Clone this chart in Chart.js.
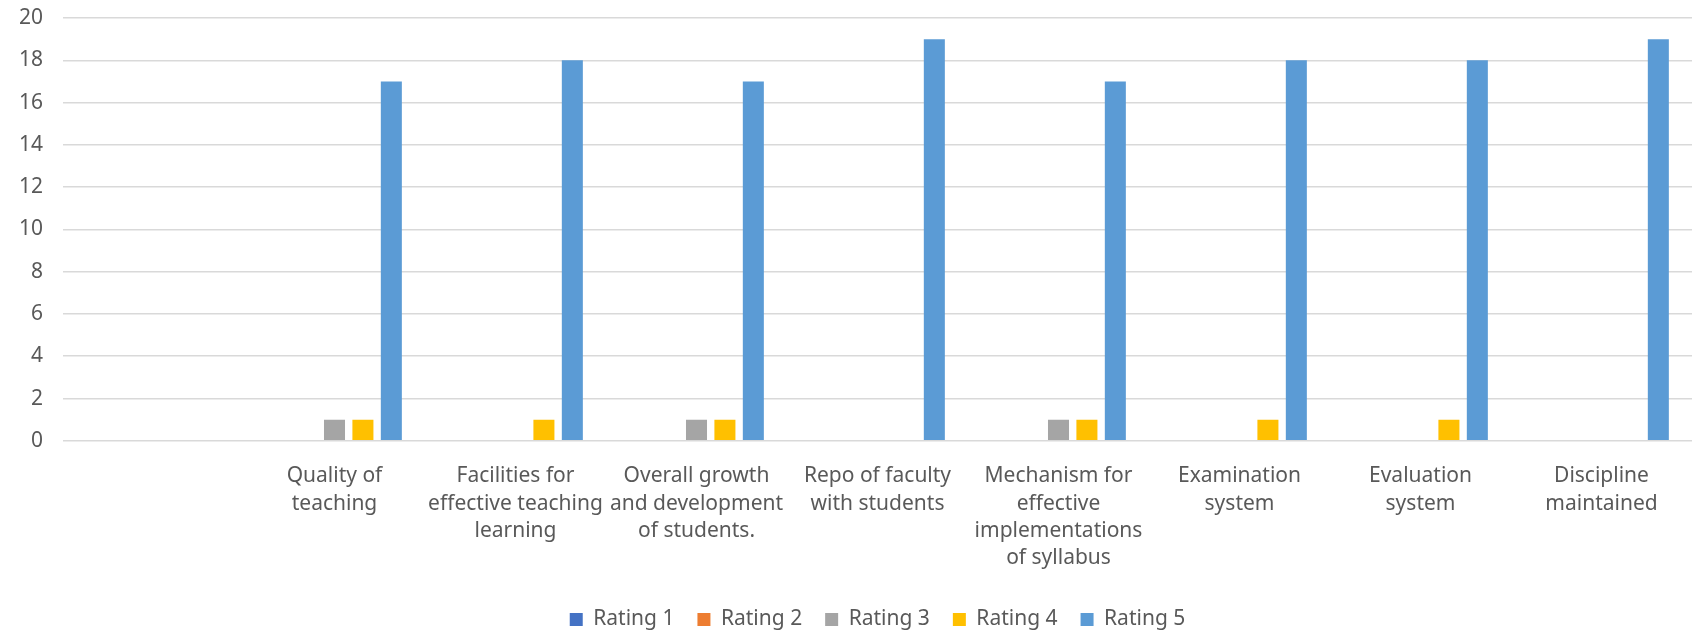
<!DOCTYPE html>
<html>
<head>
<meta charset="utf-8">
<script src="https://cdn.jsdelivr.net/npm/chart.js@4"></script>
<style>
  html, body { margin: 0; padding: 0; background: #fff; }
</style>
</head>
<body>
<canvas id="myChart" width="1696" height="634"></canvas>
<script>
const categories = [
    '',
    ['Quality of', 'teaching'],
    ['Facilities for', 'effective teaching', 'learning'],
    ['Overall growth', 'and development', 'of students.'],
    ['Repo of faculty', 'with students'],
    ['Mechanism for', 'effective', 'implementations', 'of syllabus'],
    ['Examination', 'system'],
    ['Evaluation', 'system'],
    ['Discipline', 'maintained']
];
const rating1 = [null, 0, 0, 0, 0, 0, 0, 0, 0];
const rating2 = [null, 0, 0, 0, 0, 0, 0, 0, 0];
const rating3 = [null, 1, 0, 1, 0, 1, 0, 0, 0];
const rating4 = [null, 1, 1, 1, 0, 1, 1, 1, 0];
const rating5 = [null, 17, 18, 17, 19, 17, 18, 18, 19];
const yTicks = [0, 2, 4, 6, 8, 10, 12, 14, 16, 18, 20];

const font = "'Noto Sans', sans-serif";
const ctx = document.getElementById('myChart');

function ds(label, data, color) {
    return {
        label: label,
        data: data,
        backgroundColor: color,
        borderWidth: 0,
        categoryPercentage: 0.785,
        barPercentage: 0.74
    };
}

new Chart(ctx, {
    type: 'bar',
    data: {
        labels: categories,
        datasets: [
            ds('Rating 1', rating1, '#4472C4'),
            ds('Rating 2', rating2, '#ED7D31'),
            ds('Rating 3', rating3, '#A5A5A5'),
            ds('Rating 4', rating4, '#FFC000'),
            ds('Rating 5', rating5, '#5B9BD5')
        ]
    },
    options: {
        responsive: false,
        animation: false,
        layout: { padding: { left: 0, right: 4, top: 0, bottom: -6 } },
        plugins: {
            tooltip: { enabled: false },
            legend: {
                position: 'bottom',
                fullSize: false,
                labels: {
                    font: { family: font, size: 21 },
                    color: '#595959',
                    boxWidth: 13,
                    boxHeight: 13,
                    padding: 23
                }
            }
        },
        scales: {
            x: {
                grid: { display: false },
                border: { display: false },
                ticks: {
                    font: { family: font, size: 21, lineHeight: 1.3 },
                    color: '#595959',
                    maxRotation: 0,
                    autoSkip: false,
                    padding: 14
                }
            },
            y: {
                min: 0,
                max: 20,
                afterBuildTicks: function (axis) {
                    axis.ticks = yTicks.map(v => ({ value: v }));
                },
                // axis box like the original: labels end ~20px before the plot
                afterFit: function (axis) {
                    axis.width = 63;
                    axis.paddingTop = 18;
                },
                grid: { color: '#d9d9d9', lineWidth: 1.5, drawTicks: false },
                border: { display: false },
                ticks: {
                    font: { family: font, size: 21 },
                    color: '#595959',
                    padding: 20
                }
            }
        }
    }
});
</script>
</body>
</html>
